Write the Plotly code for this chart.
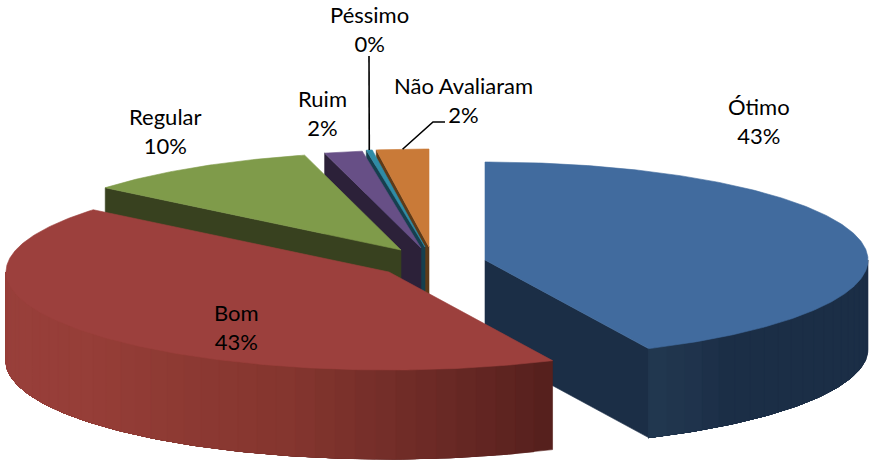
import numpy as np
import plotly.graph_objects as go

# ---- data ----
categories = ["Ótimo", "Bom", "Regular", "Ruim", "Péssimo", "Não Avaliaram"]
values = [43.0, 43.0, 10.0, 1.6, 0.25, 2.2]

# ---- styles / geometry of the 3-D pie ----
top_colors = ["#416b9e", "#9c403d", "#7f9b4a", "#674f86", "#2f8ca6", "#c97a38"]
side_colors = ["#1b2e46", "#9a403c", "#38411f", "#2c2139", "#163f4e", "#5e3a17"]
cx, cy = 433.0, 263.0
rx, ry = 383.0, 98.0
depth = 89.0
pull_dx = [52, -44, -32, -12, -8, -4]
pull_dy = [-3, 9, -13, -15, -16, -16]
label_xy = [(759, 121), (236, 327), (165, 131), (322, 113), (369, 29), (463, 100)]
side_stops = {
    0: [(90, "#1b2e46"), (140, "#1b2e46"), (148, "#20344d"), (154.8, "#223850")],
    1: [(154.8, "#55201d"), (175, "#6e2b27"), (195, "#85362f"), (230, "#963e38"), (270, "#9a403c")],
}


def hex2rgb(h):
    return np.array([int(h[i:i + 2], 16) for i in (1, 3, 5)], float)


def stop_color(stops, t):
    ts = [s[0] for s in stops]
    rgb = [np.interp(t, ts, [hex2rgb(s[1])[k] for s in stops]) for k in range(3)]
    return "rgb(%d,%d,%d)" % tuple(rgb)


def rim(th, ax, ay):
    r = np.radians(th)
    return ax + rx * np.sin(r), ay - ry * np.cos(r)


fig = go.Figure()


def poly(xs, ys, color):
    fig.add_trace(go.Scatter(
        x=list(xs) + [xs[0]], y=list(ys) + [ys[0]], mode="lines", fill="toself",
        fillcolor=color, line=dict(color=color, width=0.6),
        hoverinfo="skip", showlegend=False))


fracs = np.array(values) / sum(values) * 360.0
ends = np.cumsum(fracs)
starts = ends - fracs

# back slices first, the big front slice last
for i in [5, 4, 3, 2, 0, 1]:
    a0, a1 = starts[i], ends[i]
    ax, ay = cx + pull_dx[i], cy + pull_dy[i]

    # flat cut faces that look toward the viewer
    for th, vis in ((a0, np.sin(np.radians(a0)) < -1e-6), (a1, np.sin(np.radians(a1)) > 1e-6)):
        if vis:
            px, py = rim(th, ax, ay)
            poly([ax, px, px, ax], [ay, py, py + depth, ay + depth], side_colors[i])

    # outer wall: only the front half of the ellipse
    lo, hi = max(a0, 90.0), min(a1, 270.0)
    if hi > lo:
        n = max(2, int((hi - lo) / 3.0))
        edges = np.linspace(lo, hi, n + 1)
        # each band runs on to the far end of the wall, so the next band overlaps it
        for e0, e1 in zip(edges[:-1], edges[1:]):
            th = np.linspace(e0, hi, max(3, int(hi - e0)))
            px, py = rim(th, ax, ay)
            col = stop_color(side_stops[i], (e0 + e1) / 2) if i in side_stops else side_colors[i]
            poly(list(px) + list(px[::-1]), list(py) + list(py[::-1] + depth), col)

    # top face
    th = np.linspace(a0, a1, max(3, int(fracs[i] * 2)))
    px, py = rim(th, ax, ay)
    poly([ax] + list(px), [ay] + list(py), top_colors[i])

# leader lines
for i, (lx, ly) in ((4, (369, 56)), (5, (433, 122))):
    th = (starts[i] + ends[i]) / 2
    px, py = rim(th, cx + pull_dx[i], cy + pull_dy[i])
    xs = [369, px] if i == 4 else [445, lx, px]
    ys = [ly, py] if i == 4 else [ly, ly, py]
    fig.add_trace(go.Scatter(x=xs, y=ys, mode="lines", line=dict(color="black", width=1.6),
                             hoverinfo="skip", showlegend=False))

for i, name in enumerate(categories):
    fig.add_annotation(
        x=label_xy[i][0], y=label_xy[i][1], xref="x", yref="y", showarrow=False,
        text=f"{name}<br>{round(values[i])}%", align="center",
        font=dict(family="Lato, Carlito, sans-serif", size=22, color="#000000"))

fig.update_layout(
    width=871, height=462, margin=dict(l=0, r=0, t=0, b=0),
    paper_bgcolor="white", plot_bgcolor="white", showlegend=False,
    xaxis=dict(range=[0, 871], visible=False, domain=[0, 1]),
    yaxis=dict(range=[462, 0], visible=False, domain=[0, 1]),
)
fig.write_html("out.html", config={"displayModeBar": False},
               post_script="document.body.style.margin='0';")
